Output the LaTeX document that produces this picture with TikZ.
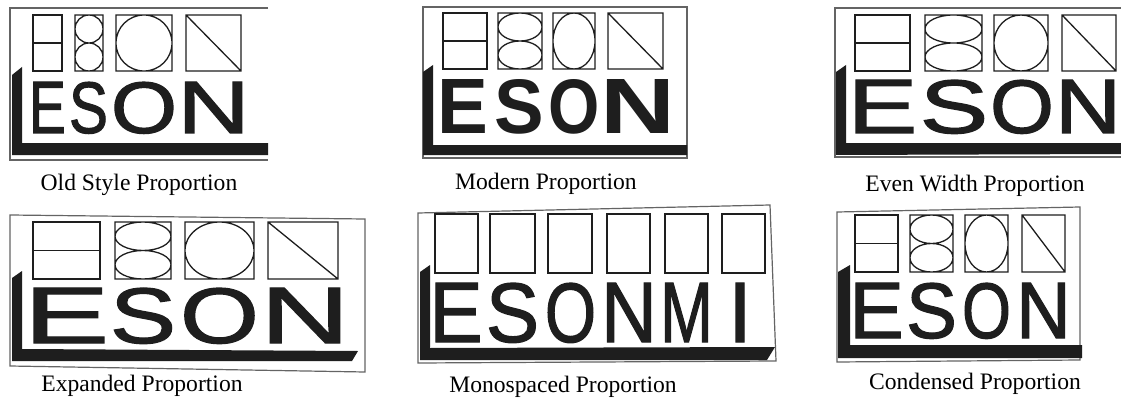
\documentclass[tikz,border=0pt]{standalone}
\usepackage{fontspec}
\setmainfont{Liberation Serif}
\newfontfamily\glyphfont[FakeBold=1.5]{Liberation Sans}
\newfontfamily\glyphboldfont{Liberation Sans Bold}
\usepackage{graphicx}
\usepackage{xcolor}
\definecolor{inkdark}{RGB}{30,30,30}
\definecolor{edgegray}{RGB}{100,100,100}
\def\ratioE{1.27}
\def\ratioS{1.18}
\def\ratioO{1.14}
\def\ratioN{1.27}
\def\ratioM{1.22}
\newcommand{\halfbox}[4]{\draw[guide] (#1,#2) rectangle (#3,#4) (#1,{(#2+#4)/2}) -- (#3,{(#2+#4)/2});}
\newcommand{\twinbox}[4]{\draw[guide] (#1,#2) rectangle (#3,#4)
  ({(#1+#3)/2},{(3*#2+#4)/4}) ellipse ({(#3-#1)/2} and {(#4-#2)/4})
  ({(#1+#3)/2},{(#2+3*#4)/4}) ellipse ({(#3-#1)/2} and {(#4-#2)/4});}
\newcommand{\ringbox}[4]{\draw[guide] (#1,#2) rectangle (#3,#4)
  ({(#1+#3)/2},{(#2+#4)/2}) ellipse ({(#3-#1)/2} and {(#4-#2)/2});}
\newcommand{\slantbox}[4]{\draw[guide] (#1,#2) rectangle (#3,#4) (#1,#2) -- (#3,#4);}
\newcommand{\glyph}[6]{%
  \pgfmathsetmacro{\gw}{(#4-#3)*\csname ratio#2\endcsname}%
  \pgfmathsetmacro{\gi}{#4-#3}%
  \pgfmathsetmacro{\gh}{#6-#5}%
  \node[letter, anchor=base] (#1) at ({(#3+#4)/2},#6) {\makebox[\gi pt][c]{\resizebox{\gw pt}{\gh pt}{#2}}};}

\begin{document}
\begin{tikzpicture}[x=1pt, y=-1pt,
  guide/.style={draw=inkdark, line width=1.3pt},
  edge/.style={draw=edgegray, line width=1.2pt},
  shadow/.style={fill=inkdark},
  letter/.style={inner sep=0pt, text=inkdark, font=\glyphfont},
  caption/.style={inner sep=0pt, anchor=base, font=\fontsize{23.6}{28}\selectfont}]
  \fill[white] (0,0) rectangle (1121,401);
  \useasboundingbox (0,0) rectangle (1121,401);

  % old style
  \draw[edge] (268,8) -- (10,8) -- (10,160) -- (268,160);
  \fill[shadow] (12,155) -- (12,75) -- (22,67) -- (22,143) -- (268,143) -- (268,155) -- cycle;
  \halfbox{33}{15}{62}{71}
  \twinbox{75}{15}{103}{71}
  \ringbox{116}{15}{172}{71}
  \slantbox{186}{15}{241}{71}
  \glyph{oldE}{E}{33}{62}{82}{133}
  \glyph{oldS}{S}{72}{105}{82}{133}
  \glyph{oldO}{O}{115}{173}{82}{133}
  \glyph{oldN}{N}{185}{242}{82}{133}
  \node[caption] (oldcap) at (139,190) {Old Style Proportion};

  % modern
  \draw[edge] (423,7) -- (687,7) -- (687,158) -- (423,158) -- cycle;
  \fill[shadow] (423,155) -- (423,72) -- (433,65) -- (433,145) -- (687,145) -- (687,155) -- cycle;
  \halfbox{443}{13}{487}{69}
  \twinbox{498}{13}{542}{69}
  \ringbox{553}{13}{595}{69}
  \slantbox{608}{13}{663}{69}
  \begin{scope}[letter/.append style={font=\glyphboldfont}]
    \glyph{modE}{E}{443}{483}{79}{133}
    \glyph{modS}{S}{498}{540}{79}{133}
    \glyph{modO}{O}{552}{597}{79}{133}
    \glyph{modN}{N}{608}{667}{79}{133}
  \end{scope}
  \node[caption] (modcap) at (546,189) {Modern Proportion};

  % even width
  \draw[edge] (1121,8) -- (835,8) -- (835,157) -- (1121,157);
  \fill[shadow] (836,155) -- (836,72) -- (846,65) -- (846,143) -- (1121,143) -- (1121,154) -- cycle;
  \halfbox{855}{15}{910}{71}
  \twinbox{925}{15}{982}{71}
  \ringbox{994}{15}{1048}{71}
  \slantbox{1062}{15}{1116}{71}
  \glyph{evenE}{E}{855}{910}{80}{133}
  \glyph{evenS}{S}{925}{983}{80}{133}
  \glyph{evenO}{O}{994}{1050}{80}{133}
  \glyph{evenN}{N}{1062}{1114}{80}{133}
  \node[caption] (evencap) at (975,191) {Even Width Proportion};

  % expanded
  \draw[edge] (10,215) -- (365,219) -- (365,372) -- (10,366) -- cycle;
  \fill[shadow] (12,361) -- (12,278) -- (22,271) -- (22,349) -- (358,351) -- (352,361) -- cycle;
  \halfbox{33}{222}{100}{279}
  \twinbox{115}{222}{171}{279}
  \ringbox{185}{222}{254}{279}
  \slantbox{268}{222}{338}{279}
  \glyph{expE}{E}{33}{100}{288}{343}
  \glyph{expS}{S}{115}{171}{288}{343}
  \glyph{expO}{O}{185}{254}{288}{343}
  \glyph{expN}{N}{270}{340}{288}{343}
  \node[caption] (expcap) at (142,391) {Expanded Proportion};

  % monospaced
  \draw[edge] (418,213) -- (770,205) -- (776,361) -- (418,363) -- cycle;
  \fill[shadow] (420,360) -- (420,272) -- (430,265) -- (430,348) -- (775,347) -- (767,360) -- cycle;
  \foreach \xa/\xb in {435/478, 490/535, 548/592, 607/650, 665/708, 722/765}
    \draw[guide] (\xa,214) rectangle (\xb,273);
  \glyph{monoE}{E}{435}{477}{283}{342}
  \glyph{monoS}{S}{490}{535}{283}{342}
  \glyph{monoO}{O}{548}{593}{283}{342}
  \glyph{monoN}{N}{607}{651}{283}{342}
  \glyph{monoM}{M}{665}{708}{283}{342}
  \node[letter, anchor=base] (monoI) at (740,342) {\resizebox{!}{59pt}{I}};
  \node[caption] (monocap) at (563,392) {Monospaced Proportion};

  % condensed
  \draw[edge] (837,212) -- (1080,207) -- (1080,360) -- (837,362) -- cycle;
  \fill[shadow] (838,358) -- (838,272) -- (850,265) -- (850,345) -- (1082,345) -- (1082,358) -- cycle;
  \halfbox{855}{215}{898}{272}
  \twinbox{910}{215}{953}{272}
  \ringbox{965}{215}{1008}{272}
  \slantbox{1022}{215}{1065}{272}
  \glyph{condE}{E}{855}{898}{283}{338}
  \glyph{condS}{S}{910}{953}{283}{338}
  \glyph{condO}{O}{965}{1008}{283}{338}
  \glyph{condN}{N}{1022}{1065}{283}{338}
  \node[caption] (condcap) at (975,389) {Condensed Proportion};
\end{tikzpicture}
\end{document}
